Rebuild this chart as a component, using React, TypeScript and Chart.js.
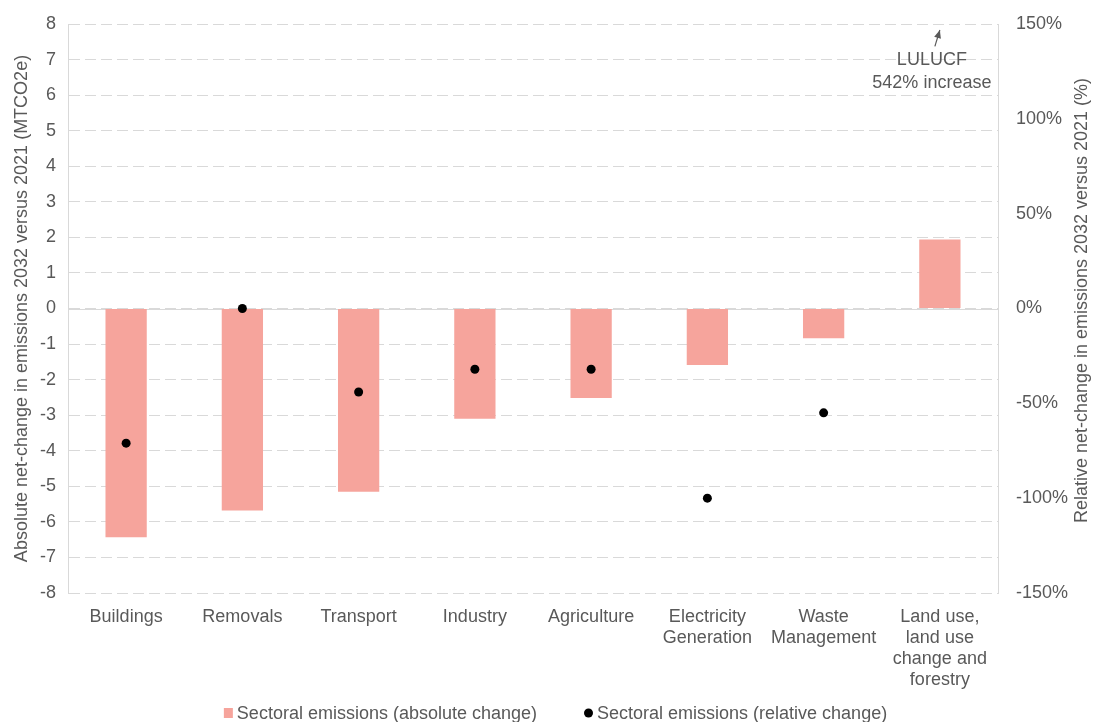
import React, { useEffect, useRef } from "react";
import { Chart, registerables } from "chart.js";

Chart.register(...registerables);

// ---- data ----
const categories: string[][] = [
  ["Buildings"],
  ["Removals"],
  ["Transport"],
  ["Industry"],
  ["Agriculture"],
  ["Electricity", "Generation"],
  ["Waste", "Management"],
  ["Land use,", "land use", "change and", "forestry"],
];
const absoluteChange = [-6.43, -5.68, -5.15, -3.1, -2.52, -1.59, -0.84, 1.94];
const relativeChange: (number | null)[] = [-71, 0, -44, -32, -32, -100, -55, null];
const seriesLabels = [
  "Sectoral emissions (absolute change)",
  "Sectoral emissions (relative change)",
];
const leftAxisTitle = "Absolute net-change in emissions 2032 versus 2021 (MTCO2e)";
const rightAxisTitle = "Relative net-change in emissions 2032 versus 2021 (%)";
const leftRange = { min: -8, max: 8, step: 1 };
const rightRange = { min: -150, max: 150, step: 50 };
const annotationLines = ["LULUCF", "542% increase"];

const FONT = '"Liberation Sans", Arial, Helvetica, sans-serif';
const TEXT = "#595959";
const GRID = "#d9d9d9";
const BAR = "#f6a49c";

const zeroLinePlugin = {
  id: "zeroLine",
  beforeDatasetsDraw(chart: any) {
    const { ctx, chartArea } = chart;
    const y = Math.round(chart.scales.y.getPixelForValue(0)) + 0.5;
    ctx.save();
    ctx.strokeStyle = GRID;
    ctx.lineWidth = 1;
    ctx.beginPath();
    ctx.moveTo(chartArea.left, y);
    ctx.lineTo(chartArea.right, y);
    ctx.stroke();
    ctx.restore();
  },
};

const rightTitlePlugin = {
  id: "rightTitle",
  afterDraw(chart: any) {
    const { ctx, chartArea } = chart;
    ctx.save();
    ctx.font = `18px ${FONT}`;
    ctx.fillStyle = TEXT;
    ctx.textAlign = "center";
    ctx.textBaseline = "middle";
    ctx.translate(chart.width - 11, (chartArea.top + chartArea.bottom) / 2 - 8);
    ctx.rotate(-Math.PI / 2);
    ctx.fillText(rightAxisTitle, 0, 0);
    ctx.restore();
  },
};

const annotationPlugin = {
  id: "lulucfNote",
  afterDraw(chart: any) {
    const { ctx } = chart;
    const xs = chart.scales.x;
    const ys = chart.scales.y;
    const cx = xs.getPixelForValue(7) - 8;
    ctx.save();
    ctx.font = `18px ${FONT}`;
    ctx.fillStyle = TEXT;
    ctx.textAlign = "center";
    ctx.textBaseline = "middle";
    ctx.fillText(annotationLines[0], cx, ys.getPixelForValue(7.0));
    ctx.fillText(annotationLines[1], cx, ys.getPixelForValue(6.35));
    // arrow
    const x1 = cx + 3, y1 = ys.getPixelForValue(7.37);
    const x2 = cx + 8, y2 = ys.getPixelForValue(7.83);
    ctx.strokeStyle = TEXT;
    ctx.lineWidth = 1.2;
    ctx.beginPath();
    ctx.moveTo(x1, y1);
    ctx.lineTo(x2, y2);
    ctx.stroke();
    const ang = Math.atan2(y2 - y1, x2 - x1);
    const len = 8, w = 3.5;
    ctx.beginPath();
    ctx.moveTo(x2, y2);
    ctx.lineTo(x2 - len * Math.cos(ang) + w * Math.sin(ang), y2 - len * Math.sin(ang) - w * Math.cos(ang));
    ctx.lineTo(x2 - len * Math.cos(ang) - w * Math.sin(ang), y2 - len * Math.sin(ang) + w * Math.cos(ang));
    ctx.closePath();
    ctx.fillStyle = TEXT;
    ctx.fill();
    ctx.restore();
  },
};

const legendPlugin = {
  id: "bottomLegend",
  afterDraw(chart: any) {
    const { ctx } = chart;
    ctx.save();
    ctx.font = `18px ${FONT}`;
    ctx.textBaseline = "middle";
    ctx.textAlign = "left";
    const items = chart.data.datasets.map((ds: any) => ({
      label: ds.label as string,
      color: (ds.type === "line" ? ds.pointBackgroundColor : ds.backgroundColor) as string,
      kind: ds.type === "line" ? "circle" : "rect",
    }));
    const marker = 9, gapText = 4, gapItems = 47;
    const widths = items.map((it: any) => marker + gapText + ctx.measureText(it.label).width);
    const total = widths.reduce((a: number, b: number) => a + b, 0) + gapItems * (items.length - 1);
    let x = chart.width / 2 + 9 - total / 2;
    const y = 713;
    items.forEach((it: any, i: number) => {
      ctx.fillStyle = it.color;
      if (it.kind === "rect") {
        ctx.fillRect(x, y - 5, marker, 10);
      } else {
        ctx.beginPath();
        ctx.arc(x + marker / 2, y, 4.5, 0, Math.PI * 2);
        ctx.fill();
      }
      ctx.fillStyle = TEXT;
      ctx.fillText(it.label, x + marker + gapText, y + 1);
      x += widths[i] + gapItems;
    });
    ctx.restore();
  },
};

export default function App() {
  const ref = useRef<HTMLCanvasElement | null>(null);

  useEffect(() => {
    if (!ref.current) return;
    Chart.defaults.font.family = FONT;
    Chart.defaults.color = TEXT;
    const chart = new Chart(ref.current, {
      type: "bar",
      data: {
        labels: categories,
        datasets: [
          {
            type: "bar",
            label: seriesLabels[0],
            data: absoluteChange,
            backgroundColor: BAR,
            borderWidth: 0,
            categoryPercentage: 1,
            barPercentage: 0.355,
            yAxisID: "y",
            order: 2,
          } as any,
          {
            type: "line",
            label: seriesLabels[1],
            data: relativeChange,
            showLine: false,
            pointRadius: 4.5,
            pointBorderWidth: 0,
            pointBackgroundColor: "#000000",
            backgroundColor: "#000000",
            borderColor: "#000000",
            yAxisID: "y1",
            order: 1,
          } as any,
        ],
      },
      options: {
        responsive: false,
        animation: false,
        devicePixelRatio: 1,
        layout: { padding: { top: 24, left: 0, right: 0, bottom: 0 } },
        plugins: {
          legend: { display: false },
          tooltip: { enabled: false },
        },
        scales: {
          x: {
            grid: { display: false },
            border: { display: false },
            ticks: {
              color: TEXT,
              font: { size: 18, lineHeight: 1.18 },
              padding: 5,
              maxRotation: 0,
              autoSkip: false,
            },
            afterFit(scale: any) {
              scale.height = 129;
            },
          },
          y: {
            position: "left",
            min: leftRange.min,
            max: leftRange.max,
            ticks: {
              stepSize: leftRange.step,
              color: TEXT,
              font: { size: 18 },
              padding: 12,
            },
            grid: { color: GRID, lineWidth: 1, drawTicks: false },
            border: { display: true, color: GRID, width: 1, dash: [11, 5] },
            title: {
              display: true,
              text: leftAxisTitle,
              color: TEXT,
              font: { size: 18 },
              padding: { top: 11, bottom: 0 },
            },
            afterFit(scale: any) {
              scale.width = 68;
              scale.paddingTop = 0;
              scale.paddingBottom = 0;
            },
          },
          y1: {
            position: "right",
            min: rightRange.min,
            max: rightRange.max,
            ticks: {
              stepSize: rightRange.step,
              color: TEXT,
              font: { size: 18 },
              padding: 18,
              callback: (v: any) => `${v}%`,
            },
            grid: { display: false, drawTicks: false },
            border: { display: true, color: GRID, width: 1 },
            title: { display: false },
            afterFit(scale: any) {
              scale.width = 95;
              scale.paddingTop = 0;
              scale.paddingBottom = 0;
            },
          },
        },
      } as any,
      plugins: [zeroLinePlugin, rightTitlePlugin, annotationPlugin, legendPlugin],
    });
    return () => chart.destroy();
  }, []);

  return (
    <div style={{ position: "absolute", left: 0, top: 0, width: 1093, height: 722, background: "#fff" }}>
      <canvas ref={ref} width={1093} height={722} />
    </div>
  );
}
